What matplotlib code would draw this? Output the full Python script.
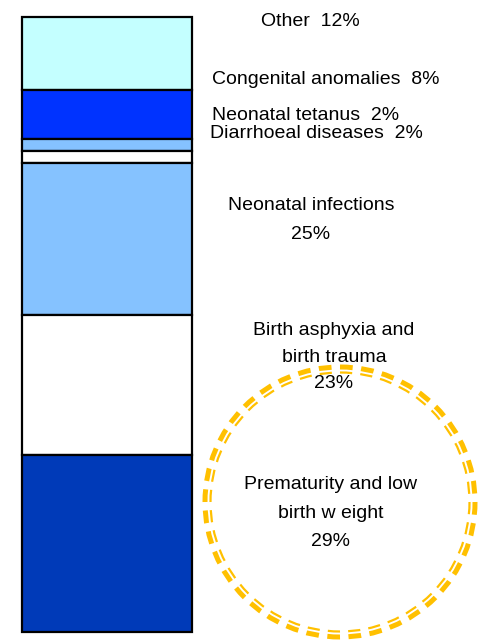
import numpy as np
import matplotlib
matplotlib.use("Agg")
import matplotlib.pyplot as plt
import matplotlib.patches as mpatches

# ── data (top of the bar first) ──
causes = ["Other", "Congenital anomalies", "Neonatal tetanus", "Diarrhoeal diseases",
          "Neonatal infections", "Birth asphyxia and birth trauma",
          "Prematurity and low birth weight"]
shares = [12, 8, 2, 2, 25, 23, 29]
colors = ["#C4FFFF", "#0033FF", "#85C2FF", "#FFFFFF", "#85C2FF", "#FFFFFF", "#003AB8"]

labels = ["Other  12%", "Congenital anomalies  8%", "Neonatal tetanus  2%",
          "Diarrhoeal diseases  2%", "Neonatal infections\n25%",
          "Birth asphyxia and\nbirth trauma\n23%", "Prematurity and low\nbirth w eight\n29%"]

W, H = 479, 642
fig = plt.figure(figsize=(W / 100, H / 100), dpi=100, facecolor="white")
plt.rcParams["font.family"] = ["Liberation Sans", "DejaVu Sans"]

# ── stacked bar ──
ax = fig.add_axes([22 / W, (H - 632) / H, (192 - 22) / W, (632 - 17) / H])
total = sum(shares)
bottoms = total - np.cumsum(shares)
ax.bar(np.zeros(len(shares)), shares, bottom=bottoms, width=1.0,
       color=colors, edgecolor="black", linewidth=1.6)
ax.set_xlim(-0.5, 0.5)
ax.set_ylim(0, total)
ax.axis("off")
for p in ax.patches:
    p.set_clip_on(False)

# ── overlay in pixel coords for labels and the highlight circle ──
ov = fig.add_axes([0, 0, 1, 1], facecolor="none")
ov.set_xlim(0, W)
ov.set_ylim(H, 0)
ov.axis("off")

label_pos = [(310, 21, "center"), (212, 80, "left"), (212, 115, "left"), (210, 133, "left"),
             (311, 220, "center"), (334, 357, "center"), (331, 513, "center")]
line_gap = [1.0, 1.0, 1.0, 1.0, 1.9, 1.7, 1.85]
for txt, (x, y, ha), lg in zip(labels, label_pos, line_gap):
    ov.text(x, y, txt, ha=ha, va="center", fontsize=14, color="black",
            linespacing=lg, multialignment="center")

# dashed double ring, both strokes share the same number of dashes so they line up
cx, cy, r = 340, 502, 135
n_dash = 40
for rad, lw in [(r, 3.6), (r - 5.5, 1.6)]:
    period = 2 * np.pi * rad * 0.72 / n_dash  # points
    ov.add_patch(mpatches.Circle((cx, cy), rad, fill=False, edgecolor="#FFC000",
                                 linewidth=lw, capstyle="butt",
                                 linestyle=(0, (0.6 * period / lw, 0.4 * period / lw))))

fig.savefig("out.png", dpi=100, facecolor="white")
